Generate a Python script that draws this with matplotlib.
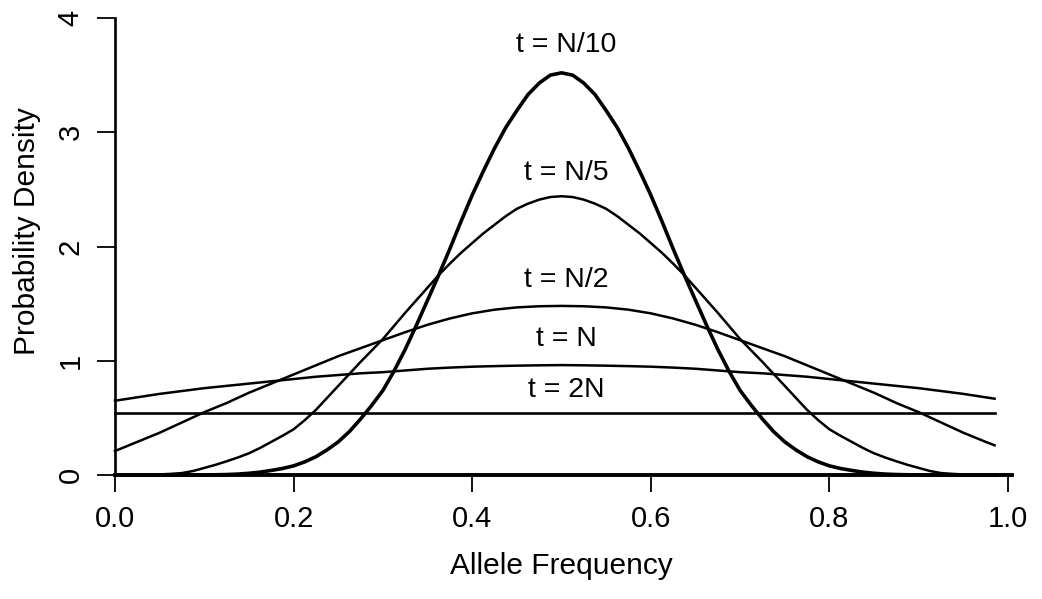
import numpy as np
import matplotlib
matplotlib.use('Agg')
import matplotlib.pyplot as plt

plt.rcParams['font.family'] = ['Liberation Sans', 'DejaVu Sans']

# allele frequency grid for the flat curves
freq = [0.000, 0.025, 0.050, 0.075, 0.100, 0.125, 0.150, 0.175, 0.200, 0.225,
        0.250, 0.275, 0.300, 0.325, 0.350, 0.375, 0.400, 0.425, 0.450, 0.475,
        0.500, 0.525, 0.550, 0.575, 0.600, 0.625, 0.650, 0.675, 0.700, 0.725,
        0.750, 0.775, 0.800, 0.825, 0.850, 0.875, 0.900, 0.925, 0.950, 0.975,
        0.985]

# finer grid for the two peaked curves
freq_fine = [0.0000, 0.0125, 0.0250, 0.0375, 0.0500, 0.0625, 0.0750, 0.0875,
             0.1000, 0.1125, 0.1250, 0.1375, 0.1500, 0.1625, 0.1750, 0.1875,
             0.2000, 0.2125, 0.2250, 0.2375, 0.2500, 0.2625, 0.2750, 0.2875,
             0.3000, 0.3125, 0.3250, 0.3375, 0.3500, 0.3625, 0.3750, 0.3875,
             0.4000, 0.4125, 0.4250, 0.4375, 0.4500, 0.4625, 0.4750, 0.4875,
             0.5000, 0.5125, 0.5250, 0.5375, 0.5500, 0.5625, 0.5750, 0.5875,
             0.6000, 0.6125, 0.6250, 0.6375, 0.6500, 0.6625, 0.6750, 0.6875,
             0.7000, 0.7125, 0.7250, 0.7375, 0.7500, 0.7625, 0.7750, 0.7875,
             0.8000, 0.8125, 0.8250, 0.8375, 0.8500, 0.8625, 0.8750, 0.8875,
             0.9000, 0.9125, 0.9250, 0.9375, 0.9500, 0.9625, 0.9750, 0.9875]

# probability density for each time
dens_N10 = [0, 0, 0, 0, 0, 0, 0, 0,
            0.001, 0.002, 0.004, 0.008, 0.015, 0.025, 0.04, 0.057,
            0.08, 0.115, 0.16, 0.22, 0.29, 0.38, 0.49, 0.61,
            0.74, 0.91, 1.10, 1.31, 1.53, 1.75, 1.98, 2.22,
            2.45, 2.66, 2.86, 3.04, 3.19, 3.33, 3.43, 3.50,
            3.52, 3.50, 3.43, 3.33, 3.19, 3.04, 2.86, 2.66,
            2.45, 2.22, 1.98, 1.75, 1.53, 1.31, 1.10, 0.91,
            0.74, 0.61, 0.49, 0.38, 0.29, 0.22, 0.16, 0.115,
            0.08, 0.057, 0.04, 0.025, 0.015, 0.008, 0.004, 0.002,
            0.001, 0, 0, 0, 0, 0, 0, 0]
dens_N5 = [0.0, 0.0, 0.001, 0.003, 0.005, 0.010, 0.017, 0.035,
           0.062, 0.089, 0.12, 0.153, 0.19, 0.237, 0.29, 0.343,
           0.40, 0.48, 0.57, 0.675, 0.78, 0.885, 0.99, 1.09,
           1.19, 1.305, 1.42, 1.53, 1.64, 1.75, 1.85, 1.945,
           2.03, 2.115, 2.19, 2.265, 2.33, 2.375, 2.41, 2.433,
           2.44, 2.433, 2.41, 2.375, 2.33, 2.265, 2.19, 2.115,
           2.03, 1.945, 1.85, 1.75, 1.64, 1.53, 1.42, 1.305,
           1.19, 1.09, 0.99, 0.885, 0.78, 0.675, 0.57, 0.48,
           0.40, 0.343, 0.29, 0.237, 0.19, 0.153, 0.12, 0.089,
           0.062, 0.035, 0.017, 0.010, 0.005, 0.003, 0.001, 0.0]
dens_N2 = [0.21, 0.29, 0.37, 0.46, 0.55, 0.63, 0.72, 0.80, 0.88, 0.96,
           1.04, 1.11, 1.18, 1.25, 1.315, 1.37, 1.415, 1.447, 1.467, 1.477,
           1.48, 1.477, 1.467, 1.447, 1.415, 1.37, 1.315, 1.25, 1.18, 1.11,
           1.04, 0.96, 0.88, 0.80, 0.72, 0.63, 0.55, 0.46, 0.37, 0.29,
           0.26]
dens_N = [0.65, 0.68, 0.71, 0.735, 0.76, 0.78, 0.80, 0.82, 0.84, 0.86,
          0.875, 0.89, 0.90, 0.915, 0.93, 0.94, 0.948, 0.953, 0.957, 0.96,
          0.962, 0.96, 0.957, 0.953, 0.948, 0.94, 0.93, 0.915, 0.90, 0.89,
          0.875, 0.86, 0.84, 0.82, 0.80, 0.78, 0.76, 0.735, 0.71, 0.68,
          0.668]
dens_2N = [0.54, 0.54, 0.54, 0.54, 0.54, 0.54, 0.54, 0.54, 0.54, 0.54,
           0.54, 0.54, 0.54, 0.54, 0.54, 0.54, 0.54, 0.54, 0.54, 0.54,
           0.54, 0.54, 0.54, 0.54, 0.54, 0.54, 0.54, 0.54, 0.54, 0.54,
           0.54, 0.54, 0.54, 0.54, 0.54, 0.54, 0.54, 0.54, 0.54, 0.54,
           0.54]

labels = ['t = N/10', 't = N/5', 't = N/2', 't = N', 't = 2N']
label_y = [3.76, 2.64, 1.71, 1.19, 0.745]

xticks = [0.0, 0.2, 0.4, 0.6, 0.8, 1.0]
xticklabels = ['0.0', '0.2', '0.4', '0.6', '0.8', '1.0']
yticks = [0, 1, 2, 3, 4]
yticklabels = ['0', '1', '2', '3', '4']

fig = plt.figure(figsize=(10.42, 5.99), dpi=100)
ax = fig.add_axes([115/1042, 1 - 475/599, 893/1042, 457/599])

ax.plot(freq_fine, dens_N10, color='black', lw=2.6, clip_on=False)
ax.plot(freq_fine, dens_N5, color='black', lw=1.8, clip_on=False)
ax.plot(freq, dens_N2, color='black', lw=1.8, clip_on=False)
ax.plot(freq, dens_N, color='black', lw=1.8, clip_on=False)
ax.plot(freq, dens_2N, color='black', lw=1.9, clip_on=False)
ax.plot([0, 1.004], [0, 0], color='black', lw=2.8, clip_on=False)

for lab, yy in zip(labels, label_y):
    ax.text(0.505, yy, lab, ha='center', va='center', fontsize=20.5)

ax.set_xlim(0, 1)
ax.set_ylim(0, 4)
for s in ['top', 'right', 'bottom']:
    ax.spines[s].set_visible(False)
ax.spines['left'].set_linewidth(1.9)

ax.set_xticks(xticks)
ax.set_xticklabels(xticklabels)
ax.set_yticks(yticks)
ax.set_yticklabels(yticklabels, rotation=90, va='center')
ax.tick_params(axis='x', direction='out', length=12.5, width=1.3, pad=9, labelsize=21)
ax.tick_params(axis='y', direction='out', length=13, width=1.3, pad=9, labelsize=21)

fig.text(27/1042, 1 - 231/599, 'Probability Density', rotation=90,
         ha='center', va='center', fontsize=21.5)
fig.text(561.5/1042, 1 - 566/599, 'Allele Frequency', ha='center', va='center', fontsize=21.5)

fig.savefig('out.png', dpi=100)
